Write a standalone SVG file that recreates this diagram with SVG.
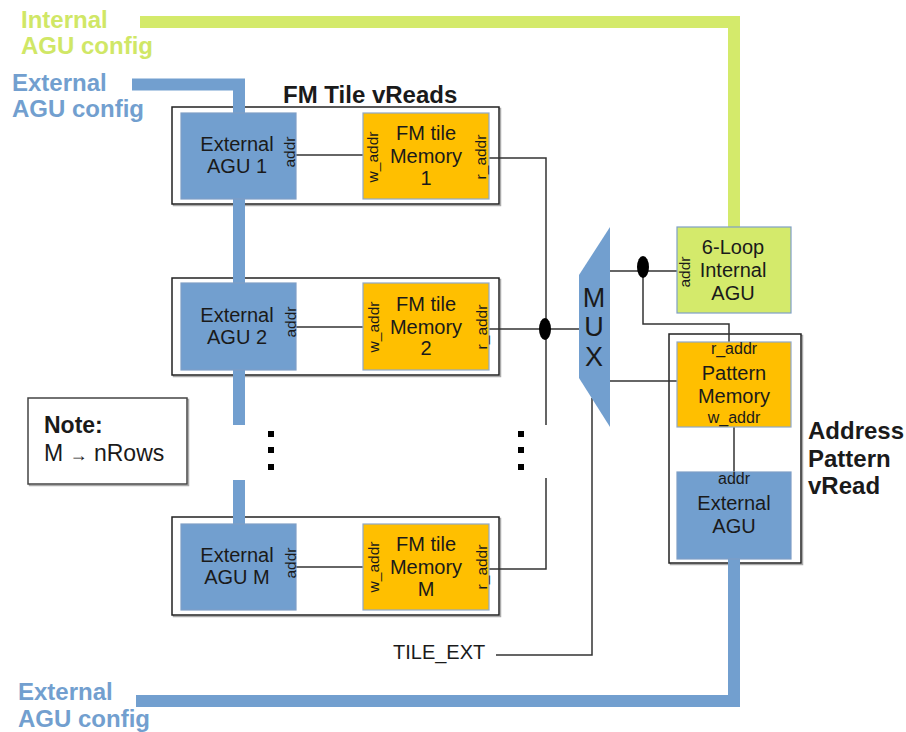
<svg xmlns="http://www.w3.org/2000/svg" width="906" height="732" viewBox="0 0 906 732">
<style>
text{font-family:"Liberation Sans",Arial,sans-serif;fill:#1a1a1a}
.t20{font-size:20px;text-anchor:middle}
.rot{font-size:15.5px;text-anchor:middle;dominant-baseline:central}
.sm{font-size:16px;text-anchor:middle}
.big{font-size:24px;font-weight:bold}
.outer{fill:#fff;stroke:#222;stroke-width:1.5}
.shadow{fill:none;stroke:#aaa;stroke-width:1.5}
.blue{fill:#729fcf;stroke:#7f9fc6;stroke-width:1.2}
.orange{fill:#ffbf00;stroke:#8fa8c8;stroke-width:1.2}
.green{fill:#d4ea6b;stroke:#7f9fc6;stroke-width:1.2}
.wire{fill:none;stroke:#333;stroke-width:1.5}
.bus{fill:none;stroke-width:12;stroke-linejoin:miter}
</style>
<rect width="906" height="732" fill="#fff"/>

<g id="labels">
<text class="big" x="21" y="28" style="fill:#d0e766">Internal</text>
<text class="big" x="21" y="54" style="fill:#d0e766">AGU config</text>
<text class="big" x="12" y="91" style="fill:#729fcf">External</text>
<text class="big" x="12" y="117" style="fill:#729fcf">AGU config</text>
<text class="big" x="18" y="700" style="fill:#729fcf">External</text>
<text class="big" x="18" y="727" style="fill:#729fcf">AGU config</text>
<text class="big" x="283" y="103">FM Tile vReads</text>
<text class="big" x="808" y="439">Address</text>
<text class="big" x="808" y="467">Pattern</text>
<text class="big" x="808" y="494">vRead</text>
<text x="393" y="659" style="font-size:20px">TILE_EXT</text>
</g>

<g id="outer-boxes">
<rect class="shadow" x="173.5" y="108.5" width="327" height="97"/>
<rect class="outer" x="172" y="107" width="327" height="97"/>
<rect class="shadow" x="173.5" y="279.5" width="327" height="97"/>
<rect class="outer" x="172" y="278" width="327" height="97"/>
<rect class="shadow" x="173.5" y="518.5" width="327" height="98"/>
<rect class="outer" x="172" y="517" width="327" height="98"/>
<rect class="shadow" x="670.5" y="335.5" width="132" height="229"/>
<rect class="outer" x="669" y="334" width="132" height="229"/>
</g>

<g id="connectors">
<polyline class="bus" stroke="#d4ea6b" points="140,22 734,22 734,227"/>
<polyline class="bus" stroke="#729fcf" points="132,84.5 239,84.5 239,425"/>
<line class="bus" stroke="#729fcf" x1="239" y1="480" x2="239" y2="524"/>
<polyline class="bus" stroke="#729fcf" points="136,701 734,701 734,559"/>
<line class="wire" x1="296" y1="155" x2="363" y2="155"/>
<line class="wire" x1="296" y1="327" x2="363" y2="327"/>
<line class="wire" x1="296" y1="567" x2="363" y2="567"/>
<polyline class="wire" points="489,158 546,158 546,425"/>
<polyline class="wire" points="546,478 546,569 489,569"/>
<line class="wire" x1="489" y1="329" x2="580" y2="329"/>
<line class="wire" x1="609" y1="271" x2="677" y2="271"/>
<polyline class="wire" points="643,271 643,324 729,324 729,342"/>
<line class="wire" x1="609" y1="381" x2="677" y2="381"/>
<line class="wire" x1="734" y1="427" x2="734" y2="472"/>
<polyline class="wire" points="496,655 592,655 592,398"/>
<ellipse cx="545" cy="329" rx="6" ry="11" fill="#000"/>
<ellipse cx="643" cy="267" rx="6" ry="11" fill="#000"/>
<g fill="#000">
<rect x="268" y="431" width="6" height="6"/>
<rect x="268" y="447" width="6" height="6"/>
<rect x="268" y="464" width="6" height="6"/>
<rect x="518" y="431" width="6" height="6"/>
<rect x="518" y="447" width="6" height="6"/>
<rect x="518" y="464" width="6" height="6"/>
</g>
</g>

<g id="agu1">
<rect class="blue" x="181" y="113" width="115" height="86"/>
<text class="t20" x="237" y="151">External</text>
<text class="t20" x="237" y="173">AGU 1</text>
<text class="rot" transform="translate(289,152) rotate(-90)">addr</text>
</g>
<g id="mem1">
<rect class="orange" x="363" y="113" width="126" height="86"/>
<text class="t20" x="426" y="140">FM tile</text>
<text class="t20" x="426" y="163">Memory</text>
<text class="t20" x="426" y="185">1</text>
<text class="rot" transform="translate(372,157) rotate(-90)">w_addr</text>
<text class="rot" transform="translate(480,157) rotate(-90)">r_addr</text>
</g>

<g id="agu2">
<rect class="blue" x="181" y="283" width="115" height="87"/>
<text class="t20" x="237" y="322">External</text>
<text class="t20" x="237" y="344">AGU 2</text>
<text class="rot" transform="translate(290,322) rotate(-90)">addr</text>
</g>
<g id="mem2">
<rect class="orange" x="363" y="283" width="126" height="87"/>
<text class="t20" x="426" y="311">FM tile</text>
<text class="t20" x="426" y="334">Memory</text>
<text class="t20" x="426" y="355">2</text>
<text class="rot" transform="translate(373,327) rotate(-90)">w_addr</text>
<text class="rot" transform="translate(481,327) rotate(-90)">r_addr</text>
</g>

<g id="aguM">
<rect class="blue" x="181" y="524" width="115" height="86"/>
<text class="t20" x="237" y="562">External</text>
<text class="t20" x="237" y="584">AGU M</text>
<text class="rot" transform="translate(290,563) rotate(-90)">addr</text>
</g>
<g id="memM">
<rect class="orange" x="363" y="524" width="126" height="86"/>
<text class="t20" x="426" y="551">FM tile</text>
<text class="t20" x="426" y="574">Memory</text>
<text class="t20" x="426" y="596">M</text>
<text class="rot" transform="translate(373,567) rotate(-90)">w_addr</text>
<text class="rot" transform="translate(481,567) rotate(-90)">r_addr</text>
</g>

<g id="note">
<rect x="29.5" y="399.5" width="159" height="86" fill="none" stroke="#aaa" stroke-width="1.5"/>
<rect x="28" y="398" width="159" height="86" fill="#fff" stroke="#444" stroke-width="1.5"/>
<text x="44" y="433" style="font-size:23px;font-weight:bold">Note:</text>
<text x="44" y="461" style="font-size:23px">M <tspan style="font-size:18px">→</tspan> nRows</text>
</g>

<g id="mux">
<polygon points="610,227 579,275 579,378 610,427" fill="#729fcf"/>
<text x="594" y="307" style="font-size:27px;text-anchor:middle">M</text>
<text x="594" y="336" style="font-size:27px;text-anchor:middle">U</text>
<text x="594" y="366" style="font-size:27px;text-anchor:middle">X</text>
</g>

<g id="internal-agu">
<rect class="green" x="677" y="227" width="114" height="86"/>
<text class="t20" x="733" y="254">6-Loop</text>
<text class="t20" x="733" y="277">Internal</text>
<text class="t20" x="733" y="300">AGU</text>
<text class="rot" transform="translate(684,272) rotate(-90)">addr</text>
</g>

<g id="pattern-memory">
<rect class="orange" x="677" y="342" width="114" height="85"/>
<text class="sm" x="734" y="354">r_addr</text>
<text class="t20" x="734" y="380">Pattern</text>
<text class="t20" x="734" y="403">Memory</text>
<text class="sm" x="734" y="423">w_addr</text>
</g>

<g id="external-agu">
<rect class="blue" x="677" y="472" width="114" height="87"/>
<text class="sm" x="734" y="484">addr</text>
<text class="t20" x="734" y="510">External</text>
<text class="t20" x="734" y="533">AGU</text>
</g>
</svg>
